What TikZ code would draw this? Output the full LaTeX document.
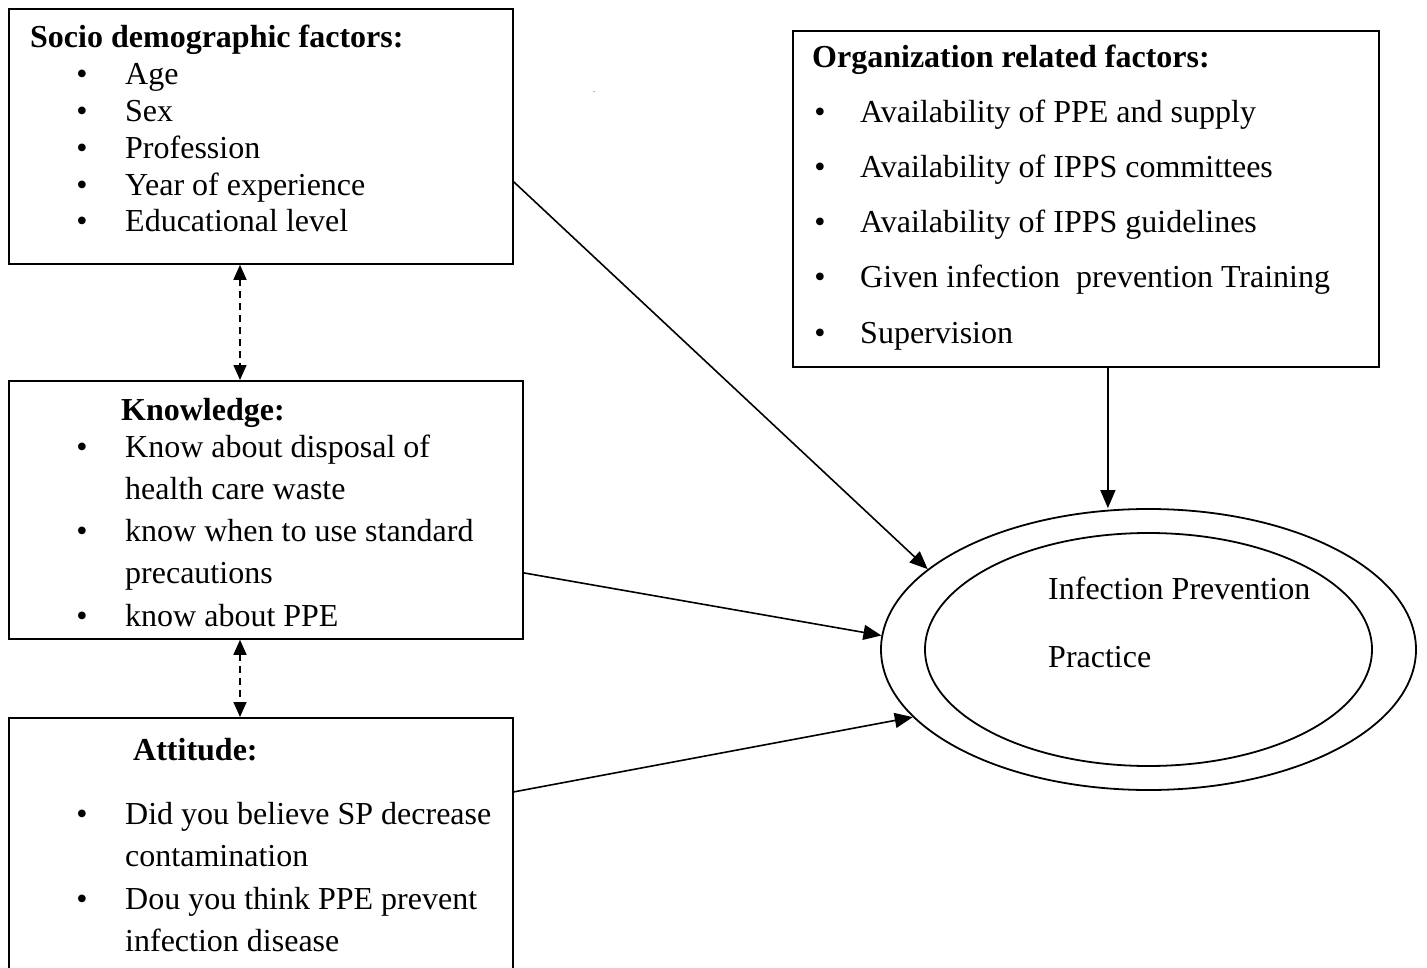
\documentclass[tikz,border=0pt]{standalone}
\usepackage{fontspec}
\setmainfont{Liberation Serif}
\usetikzlibrary{arrows.meta,shapes.geometric}
\begin{document}
\begin{tikzpicture}[x=1pt,y=-1pt,
 box/.style={draw,line width=1.8pt,rectangle,inner sep=0pt,anchor=north west},
 txt/.style={anchor=base west,inner sep=0pt,font=\fontsize{32}{38}\selectfont},
 hd/.style={anchor=base west,inner sep=0pt,font=\fontsize{32}{38}\selectfont\bfseries},
 bul/.style={anchor=base,inner sep=0pt,font=\fontsize{32}{38}\selectfont},
 arr/.style={line width=1.6pt,-{Triangle[length=18pt,width=15pt]}},
 darr/.style={line width=1.6pt,dash pattern=on 7pt off 5pt,{Triangle[length=15pt,width=13pt]}-{Triangle[length=15pt,width=13pt]}},
 ring/.style={draw,ellipse,line width=1.8pt,inner sep=0pt}
]
\useasboundingbox (0,0) rectangle (1427,968);
\clip (0,0) rectangle (1427,968);

% Socio demographic box
\node[box,minimum width=504pt,minimum height=255pt] (socio) at (8,8) {};
\node[hd] (sh) at (30,48) {Socio demographic factors:};
\foreach \t [count=\i] in {Age,Sex,Profession,Year of experience,Educational level}{
  \node[bul] (sb\i) at (82,{85+36.7*(\i-1)}) {\textbullet};
  \node[txt] (st\i) at (125,{85+36.7*(\i-1)}) {\t};
}

% Knowledge box
\node[box,minimum width=514pt,minimum height=258pt] (know) at (8,380) {};
\node[hd] (kh) at (121,420) {Knowledge:};
\node[bul] (kb1) at (82,457) {\textbullet};
\node[txt] (kt1) at (125,457) {Know about disposal of};
\node[txt] (kt2) at (125,499) {health care waste};
\node[bul] (kb3) at (82,541) {\textbullet};
\node[txt] (kt3) at (125,541) {know when to use standard};
\node[txt] (kt4) at (125,583) {precautions};
\node[bul] (kb5) at (82,626) {\textbullet};
\node[txt] (kt5) at (125,626) {know about PPE};

% Attitude box
\node[box,minimum width=504pt,minimum height=270pt] (att) at (8,717) {};
\node[hd] (ah) at (133,760) {Attitude:};
\node[bul] (ab1) at (82,824) {\textbullet};
\node[txt] (at1) at (125,824) {Did you believe SP decrease};
\node[txt] (at2) at (125,866) {contamination};
\node[bul] (ab3) at (82,909) {\textbullet};
\node[txt] (at3) at (125,909) {Dou you think PPE prevent};
\node[txt] (at4) at (125,951) {infection disease};

% Organization box
\node[box,minimum width=586pt,minimum height=336pt] (org) at (792,30) {};
\node[hd] (oh) at (812,68) {Organization related factors:};
\foreach \t [count=\i] in {Availability of PPE and supply,Availability of IPPS committees,Availability of IPPS guidelines,Given infection\ \ prevention Training,Supervision}{
  \node[bul] (ob\i) at (820,{123+55*(\i-1)}) {\textbullet};
  \node[txt] (ot\i) at (860,{123+55*(\i-1)}) {\t};
}

% Ellipses
\node[ring,minimum width=535pt,minimum height=281pt] (outer) at (1148.5,649.5) {};
\node[ring,minimum width=447pt,minimum height=233pt] (inner) at (1148.5,649.5) {};
\node[txt] (ip1) at (1048,599) {Infection Prevention};
\node[txt] (ip2) at (1048,667) {Practice};

% stray dot
\node[anchor=base,inner sep=0pt,font=\fontsize{8}{8}\selectfont] (dot) at (594,93) {.};

% Connectors
\draw[arr] ([yshift=-45.5pt]socio.east) -- (outer.160.3);
\draw[arr] ([yshift=-63pt]know.east) -- (outer.177.5);
\draw[arr] ([yshift=61pt]att.east) -- (outer.196.7);
\draw[arr] ([xshift=22pt]org.south) -- ([xshift=22pt]org.south |- outer.north);

\coordinate (dx) at (240,0);
\draw[darr] (dx |- socio.south) -- (dx |- know.north);
\draw[darr] (dx |- know.south) -- (dx |- att.north);
\end{tikzpicture}
\end{document}
